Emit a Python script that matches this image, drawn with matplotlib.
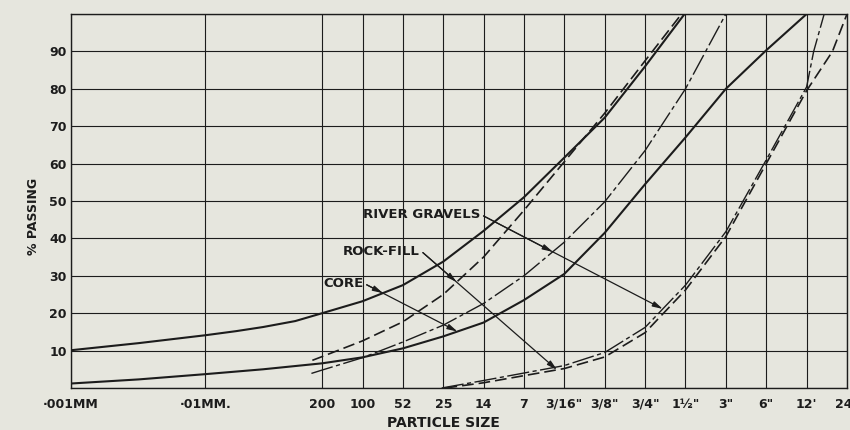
import numpy as np
import matplotlib
matplotlib.use("Agg")
import matplotlib.pyplot as plt
from matplotlib.ticker import NullLocator

# ---------------- data ----------------
tick_sizes_mm = [0.001, 0.01, 0.0745, 0.149, 0.298, 0.596, 1.19, 2.38, 4.76,
                 9.53, 19.05, 38.1, 76.2, 152.4, 304.8, 609.6]
tick_labels = ['·001MM', '·01MM.', '200', '100', '52', '25', '14', '7',
               '3/16"', '3/8"', '3/4"', '1½"', '3"', '6"', "12'", '24"']
y_ticks = [0, 10, 20, 30, 40, 50, 60, 70, 80, 90, 100]
y_tick_labels = ['', '10', '20', '30', '40', '50', '60', '70', '80', '90', '']

# Core (solid lines)
core_fine_size = [0.001, 0.0032, 0.01, 0.017, 0.027, 0.047, 0.0745, 0.149,
                  0.298, 0.596, 1.19, 2.38, 4.76, 9.53, 19.05, 37.5]
core_fine_pct = [10.1, 12.0, 14.1, 15.2, 16.3, 17.9, 20.0, 23.2,
                 27.5, 33.8, 42.0, 51.0, 61.6, 72.3, 86.0, 100]
core_coarse_size = [0.001, 0.0032, 0.01, 0.027, 0.0745, 0.149, 0.298, 0.596,
                    1.19, 2.38, 4.76, 9.53, 19.05, 38.1, 76.2, 152.4, 304.8]
core_coarse_pct = [1.2, 2.3, 3.7, 5.0, 6.6, 8.2, 10.6, 13.8,
                   17.5, 23.5, 30.5, 41.5, 54.5, 67.0, 80.0, 90.3, 100]

# Rock-fill (dashed lines)
rock_fine_size = [0.063, 0.0745, 0.149, 0.298, 0.596, 1.19, 2.38, 4.76,
                  9.53, 19.05, 35.6]
rock_fine_pct = [7.4, 8.4, 12.6, 17.7, 25.0, 35.0, 47.5, 60.5,
                 73.5, 87.5, 100]
rock_coarse_size = [0.62, 1.19, 2.38, 4.76, 9.53, 19.05, 38.1, 76.2,
                    152.4, 304.8, 475, 609.6]
rock_coarse_pct = [0.0, 1.4, 3.3, 5.2, 8.3, 14.8, 26.2, 40.5,
                   60.0, 79.5, 90, 100]

# River gravels (chain lines)
river_fine_size = [0.062, 0.0745, 0.149, 0.298, 0.596, 1.19, 2.38, 4.76,
                   9.53, 19.05, 38.1, 76.2]
river_fine_pct = [3.9, 4.8, 8.1, 12.3, 16.8, 22.6, 30.0, 39.0,
                  49.8, 63.5, 80.0, 100]
river_coarse_size = [0.58, 1.19, 2.38, 4.76, 9.53, 19.05, 38.1, 76.2,
                     152.4, 304.8, 344, 412]
river_coarse_pct = [0.0, 2.0, 4.0, 6.0, 9.5, 16.2, 27.5, 41.8,
                    61.0, 80.5, 90, 100]

# labels with leader lines: (text, leader start (mm, %), end size on coarse curve)
core_label = 'CORE'
core_leader_start = (0.16, 27.6)
core_target_size = 0.76
rock_label = 'ROCK-FILL'
rock_leader_start = (0.42, 36.2)
rock_target_size = 4.2
river_label = 'RIVER GRAVELS'
river_leader_start = (1.19, 46.0)
river_target_size = 25.8

# ---------------- style ----------------
BG = '#e6e6de'
INK = '#1c1c1c'
plt.rcParams['font.family'] = ['DejaVu Sans']
plt.rcParams['font.weight'] = 'bold'
plt.rcParams['axes.labelweight'] = 'bold'

fig = plt.figure(figsize=(8.5, 4.3), dpi=100, facecolor=BG)
ax = fig.add_axes([71 / 850, 42 / 430, 776 / 850, 374 / 430])
ax.set_facecolor(BG)
ax.set_xscale('log')
ax.set_xlim(0.001, 609.6)
ax.set_ylim(0, 100)
ax.set_xticks(tick_sizes_mm, tick_labels)
ax.xaxis.set_minor_locator(NullLocator())
ax.set_yticks(y_ticks, y_tick_labels)
ax.tick_params(axis='both', length=0, labelsize=9, colors=INK)
ax.tick_params(axis='x', pad=7)
ax.tick_params(axis='y', pad=3)
ax.grid(True, color=INK, lw=0.8)
ax.set_axisbelow(True)
for s in ax.spines.values():
    s.set_color(INK)
    s.set_linewidth(1.0)

# curves
ax.plot(core_fine_size, core_fine_pct, color=INK, lw=1.5, solid_joinstyle='round')
ax.plot(core_coarse_size, core_coarse_pct, color=INK, lw=1.5, solid_joinstyle='round')
ax.plot(rock_fine_size, rock_fine_pct, color=INK, lw=1.2, dashes=(7, 3))
ax.plot(rock_coarse_size, rock_coarse_pct, color=INK, lw=1.2, dashes=(7, 3))
ax.plot(river_fine_size, river_fine_pct, color=INK, lw=1.0, dashes=(16, 2.5, 3, 2.5))
ax.plot(river_coarse_size, river_coarse_pct, color=INK, lw=1.0, dashes=(16, 2.5, 3, 2.5))


def crossing(start, end, csize, cpct):
    t = np.linspace(0, 1, 4001)
    lx = np.log10(start[0]) + t * (np.log10(end[0]) - np.log10(start[0]))
    ly = start[1] + t * (end[1] - start[1])
    cy = np.interp(lx, np.log10(csize), cpct, left=np.nan, right=np.nan)
    d = ly - cy
    ok = ~np.isnan(d)
    idx = np.where(ok[:-1] & ok[1:] & (np.sign(d[:-1]) != np.sign(d[1:])))[0]
    i = idx[0] if len(idx) else len(t) // 2
    return 10 ** lx[i], ly[i]


def leader(text, start, target_size, fine_size, fine_pct, coarse_size, coarse_pct):
    end_pct = float(np.interp(np.log10(target_size), np.log10(coarse_size), coarse_pct))
    end = (target_size, end_pct)
    mid = crossing(start, end, fine_size, fine_pct)
    props = dict(arrowstyle='-|>,head_length=0.75,head_width=0.2', lw=0.9,
                 color=INK, shrinkA=0, shrinkB=0, mutation_scale=8)
    ax.annotate('', xy=end, xytext=start, arrowprops=props)
    ax.annotate('', xy=mid, xytext=start, arrowprops=props)
    ax.annotate(text, xy=start, xytext=(-2, 1), textcoords='offset points',
                ha='right', va='center', fontsize=9.5, color=INK)


leader(core_label, core_leader_start, core_target_size,
       core_fine_size, core_fine_pct, core_coarse_size, core_coarse_pct)
leader(rock_label, rock_leader_start, rock_target_size,
       rock_fine_size, rock_fine_pct, rock_coarse_size, rock_coarse_pct)
leader(river_label, river_leader_start, river_target_size,
       river_fine_size, river_fine_pct, river_coarse_size, river_coarse_pct)

ax.set_ylabel('% PASSING', fontsize=9, color=INK, va='center', fontweight='bold')
ax.yaxis.set_label_coords(-0.048, 0.46)
ax.set_xlabel('PARTICLE SIZE', fontsize=10, color=INK, va='center', fontweight='bold')
ax.xaxis.set_label_coords(0.48, -0.0936)

fig.savefig('out.png', dpi=100, facecolor=BG)
